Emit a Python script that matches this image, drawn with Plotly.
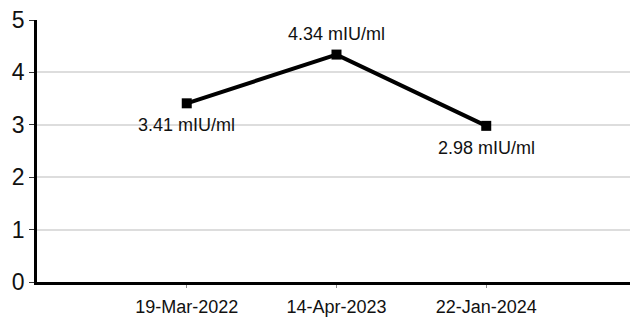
import plotly.graph_objects as go

dates = ["19-Mar-2022", "14-Apr-2023", "22-Jan-2024"]
values = [3.41, 4.34, 2.98]
unit = "mIU/ml"
label_above = [False, True, False]

FONT = "Liberation Sans, Arial, sans-serif"
xs = list(range(len(dates)))

fig = go.Figure()
fig.add_trace(go.Scatter(
    x=xs,
    y=values,
    mode="lines+markers",
    line=dict(color="black", width=4),
    marker=dict(symbol="square", size=10, color="black"),
    cliponaxis=False,
    hoverinfo="skip",
))

# value labels placed above or below each point
for x, v, above in zip(xs, values, label_above):
    fig.add_annotation(
        x=x, y=v, text=f"{v:.2f} {unit}",
        showarrow=False,
        yshift=21 if above else -22,
        font=dict(family=FONT, size=18, color="#111"),
    )

fig.update_layout(
    width=630, height=324,
    margin=dict(l=37, r=0, t=20, b=42),
    paper_bgcolor="white", plot_bgcolor="white",
    showlegend=False,
    font=dict(family=FONT, color="#111"),
)
fig.update_xaxes(
    range=[-1, 2.96],
    tickmode="array",
    tickvals=xs,
    ticktext=dates,
    tickfont=dict(size=18),
    ticks="outside", ticklen=3, tickcolor="#888", tickwidth=1,
    ticklabelstandoff=4,
    showline=True, linecolor="black", linewidth=2.5,
    showgrid=False, zeroline=False,
)
fig.update_yaxes(
    range=[0, 5],
    dtick=1,
    tickfont=dict(size=23),
    ticks="outside", ticklen=5, tickcolor="#333", tickwidth=1,
    showline=True, linecolor="black", linewidth=2.5,
    showgrid=True, gridcolor="#dddddd", gridwidth=2,
    zeroline=False,
)

fig.write_html("out.html")
